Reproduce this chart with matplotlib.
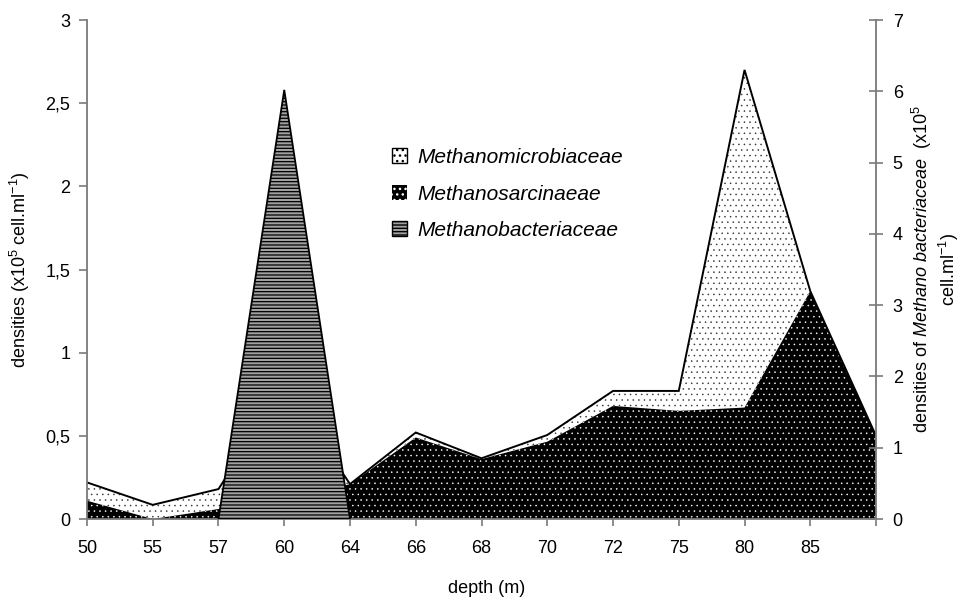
import numpy as np
import matplotlib
matplotlib.use('Agg')
from matplotlib import pyplot as plt
from matplotlib.patches import Patch

# sampling depths (m); the last station carries no label
depths = ['50', '55', '57', '60', '64', '66', '68', '70', '72', '75', '80', '85', '']

# densities in x10^5 cell/ml, stacked on the left axis
sarcinaeae = [0.11, 0.0, 0.06, 0.10, 0.21, 0.49, 0.36, 0.465, 0.68, 0.65, 0.67, 1.37, 0.50]
microbiaceae = [0.11, 0.085, 0.12, 0.70, 0.0, 0.03, 0.005, 0.04, 0.09, 0.12, 2.03, 0.0, 0.0]

# densities in x10^5 cell/ml, right axis
bacteriaceae = [0, 0, 0, 6.02, 0, 0, 0, 0, 0, 0, 0, 0, 0]

series_names = ['Methanomicrobiaceae', 'Methanosarcinaeae', 'Methanobacteriaceae']

left_ticks = [0, 0.5, 1, 1.5, 2, 2.5, 3]
left_ticklabels = ['0', '0,5', '1', '1,5', '2', '2,5', '3']
right_ticks = [0, 1, 2, 3, 4, 5, 6, 7]

plt.rcParams['font.family'] = 'Liberation Sans'
plt.rcParams['mathtext.fontset'] = 'custom'
plt.rcParams['mathtext.rm'] = 'Liberation Sans'
plt.rcParams['mathtext.it'] = 'Liberation Sans:italic'

axis_grey = '#7a7a7a'
stripe_grey = '#a0a0a0'
dot_lw = 0.35
stripe_lw = 0.9

fig = plt.figure(figsize=(9.59, 6.03), dpi=100)
ax = fig.add_axes([0.0907, 0.1393, 0.8228, 0.8275])
ax2 = ax.twinx()

x = np.arange(len(depths))
sarc = np.array(sarcinaeae, dtype=float)
total = sarc + np.array(microbiaceae, dtype=float)
bact = np.array(bacteriaceae, dtype=float)
base = np.zeros(len(x))
xx = np.concatenate([x, x[::-1]])

# stacked areas on the left axis
with plt.rc_context({'hatch.linewidth': dot_lw}):
    ax.fill(xx, np.concatenate([total, sarc[::-1]]), facecolor='white',
            edgecolor='#333333', hatch='...', linewidth=0)
    ax.fill(xx, np.concatenate([sarc, base[::-1]]), facecolor='black',
            edgecolor='white', hatch='...', linewidth=0)
ax.plot(x, total, color='black', lw=1.4, solid_joinstyle='miter')

# Methanobacteriaceae only over the stations where it is present
nz = np.nonzero(bact)[0]
span = slice(max(nz.min() - 1, 0), min(nz.max() + 2, len(x)))
xs = x[span]
with plt.rc_context({'hatch.linewidth': stripe_lw}):
    ax2.fill(np.concatenate([xs, xs[::-1]]),
             np.concatenate([bact[span], base[span][::-1]]),
             facecolor=stripe_grey, edgecolor='black', hatch='-----', linewidth=1.3)

ax.set_xlim(0, len(x) - 1)
ax.set_ylim(0, 3)
ax2.set_ylim(0, 7)
ax.set_xticks(x)
ax.set_xticklabels(depths)
ax.set_yticks(left_ticks)
ax.set_yticklabels(left_ticklabels)
ax2.set_yticks(right_ticks)

for a in (ax, ax2):
    a.spines['top'].set_visible(False)
    for s in a.spines.values():
        s.set_color(axis_grey)
        s.set_linewidth(1.3)
ax.spines['right'].set_visible(False)
ax2.spines['left'].set_visible(False)
ax2.spines['bottom'].set_visible(False)

ax.tick_params(axis='x', direction='out', length=5, width=1.2, color=axis_grey,
               pad=10, labelsize=13)
ax.tick_params(axis='y', direction='out', length=6, width=1.2, color=axis_grey,
               pad=6, labelsize=13)
ax2.tick_params(axis='y', direction='inout', length=10, width=1.2, color=axis_grey,
                pad=7, labelsize=13)

ax.set_xlabel('depth (m)', fontsize=13)
ax.xaxis.set_label_coords(0.507, -0.122)
ax.set_ylabel('densities (x10$^5$ cell.ml$^{-1}$)', fontsize=13)
ax.yaxis.set_label_coords(-0.07, 0.5)
ax2.set_ylabel('densities of $\\mathit{Methano\\ bacteriaceae}$  (x10$^5$\n'
               'cell.ml$^{-1}$)', fontsize=13, linespacing=1.15)
ax2.yaxis.set_label_coords(1.043, 0.5)

with plt.rc_context({'hatch.linewidth': dot_lw}):
    h_micro = Patch(facecolor='white', edgecolor='black', hatch='...', linewidth=1)
    h_sarc = Patch(facecolor='black', edgecolor='white', hatch='...', linewidth=0)
with plt.rc_context({'hatch.linewidth': stripe_lw}):
    h_bact = Patch(facecolor=stripe_grey, edgecolor='black', hatch='-----', linewidth=1)

ax2.legend([h_micro, h_sarc, h_bact], series_names, loc='upper left',
           bbox_to_anchor=(392 / 959, 1 - 148 / 603), bbox_transform=fig.transFigure,
           frameon=False, prop={'style': 'italic', 'size': 15},
           handlelength=0.7, handleheight=0.7, handletextpad=0.5,
           labelspacing=0.84, borderpad=0, borderaxespad=0)

fig.savefig('out.png', dpi=100)
